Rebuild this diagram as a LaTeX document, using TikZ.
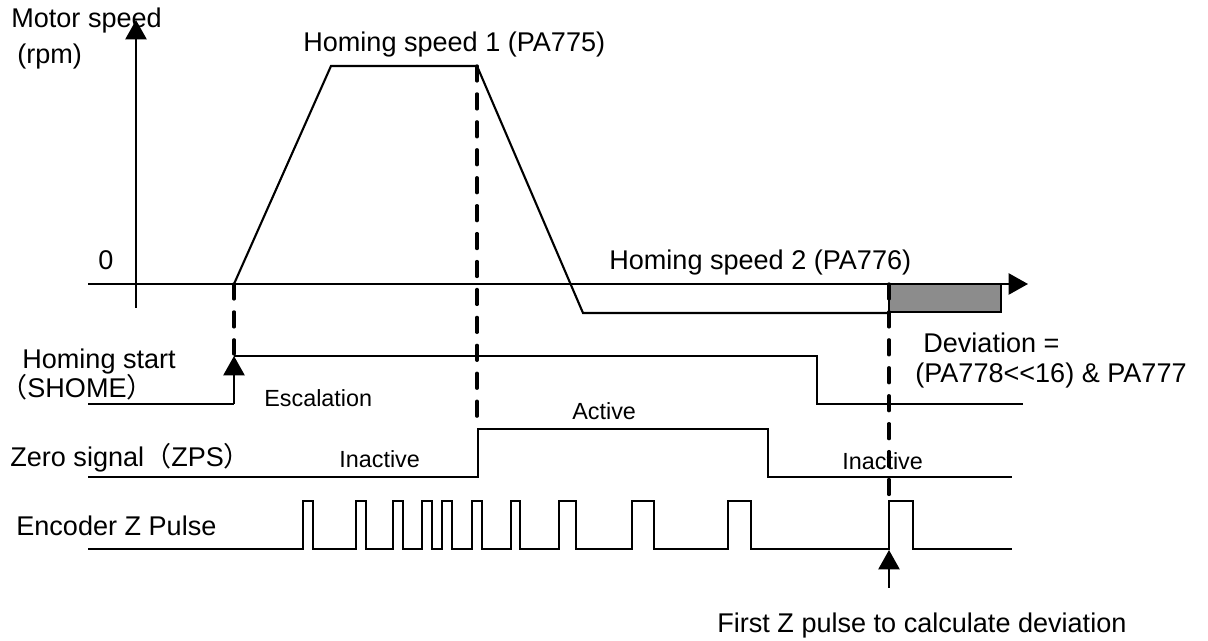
\documentclass[tikz,border=0pt]{standalone}
\usepackage{fontspec}
\setmainfont{Liberation Sans}
\newfontfamily\cjk{Noto Sans CJK SC}
\usepackage{tikz}
\usetikzlibrary{arrows.meta,calc}
\definecolor{devgray}{HTML}{8C8C8C}

\begin{document}
\begin{tikzpicture}[x=0.02cm, y=-0.02cm,
  sig/.style={line width=1.2pt, line join=miter},
  guide/.style={line width=1.9pt, line cap=round, dash pattern=on 8.5pt off 7.4pt},
  tip/.style={-{Triangle[length=11pt,width=12pt]}, line width=1.2pt},
  lbl/.style={font=\fontsize{15.4}{18}\selectfont, inner sep=0pt, anchor=base west},
  slbl/.style={font=\fontsize{13.3}{16}\selectfont, inner sep=0pt, anchor=base west}]
  \useasboundingbox (0,0) rectangle (1208,641);

  % Niveles (en px de la figura)
  \def\Ax{284}   % eje de velocidad
  \def\Lo{549}   % pulso Z bajo
  \def\Hi{501}   % pulso Z alto

  % Desviacion
  \draw[fill=devgray, line width=1.2pt] (889,\Ax) rectangle (1001,312);

  % Ejes
  \coordinate (xs) at (88,\Ax);
  \coordinate (xe) at (1028,\Ax);
  \coordinate (ys) at (136,308);
  \coordinate (ye) at (136,20);
  \draw[tip] (xs) -- (xe);
  \draw[tip] (ys) -- (ye);

  % Perfil de velocidad
  \draw[sig] (234,\Ax) -- (331,66) -- (477,66) -- (583,313) -- (889,313);

  % Homing start (SHOME)
  \coordinate (sh0) at (234,404);
  \coordinate (sh1) at (234,356);
  \draw[sig] (88,404) -- (sh0);
  \draw[tip] (sh0) -- (sh1);
  \draw[sig] (sh1) -- (817,356) -- (817,404) -- (1023,404);

  % Zero signal (ZPS)
  \draw[sig] (88,477) -- (478,477) -- (478,429) -- (768,429) -- (768,477) -- (1012,477);

  % Pulsos Z del encoder
  \draw[sig] (88,\Lo)
    foreach \a/\b in {303/313, 356/366, 393/403, 422/432, 442/452, 472/482,
                      511/520, 559/576, 632/654, 728/751, 889/913}{
      -- (\a,\Lo) -- (\a,\Hi) -- (\b,\Hi) -- (\b,\Lo)
    } -- (1012,\Lo);

  % Primer pulso Z
  \coordinate (fz0) at (889,588);
  \coordinate (fz1) at (889,550);
  \draw[tip] (fz0) -- (fz1);

  % Textos
  \node[lbl] (motor) at (11,28) {Motor speed};
  \node[lbl] (rpm) at (17,64) {(rpm)};
  \node[lbl] (zero) at (98,270) {0};
  \node[lbl] (hs1) at (303,52) {Homing speed 1 (PA775)};
  \node[lbl] (hs2) at (609,270) {Homing speed 2 (PA776)};
  \node[lbl] (dev1) at (923,353) {Deviation =};
  \node[lbl] (dev2) at (915,383) {(PA778<{}<16) \& PA777};
  \node[lbl] (hst) at (22,369) {Homing start};
  \node[lbl] (shome) at (0,398) {{\cjk （}SHOME{\cjk ）}};
  \node[slbl] (esc) at (264,407) {Escalation};
  \node[lbl] (zps) at (10,467) {Zero signal{\cjk （}ZPS{\cjk ）}};
  \node[slbl] (inact1) at (339,468) {Inactive};
  \node[slbl] (act) at (572,420) {Active};
  \node[slbl] (inact2) at (842,470) {Inactive};
  \node[lbl] (enc) at (16,536) {Encoder Z Pulse};
  \node[lbl] (first) at (717,633) {First Z pulse to calculate deviation};

  % Lineas guia
  \draw[guide] (234,\Ax) -- (234,354);
  \draw[guide] (477,66) -- (477,428);
  \draw[guide] (889,\Ax) -- (889,500);
\end{tikzpicture}
\end{document}
